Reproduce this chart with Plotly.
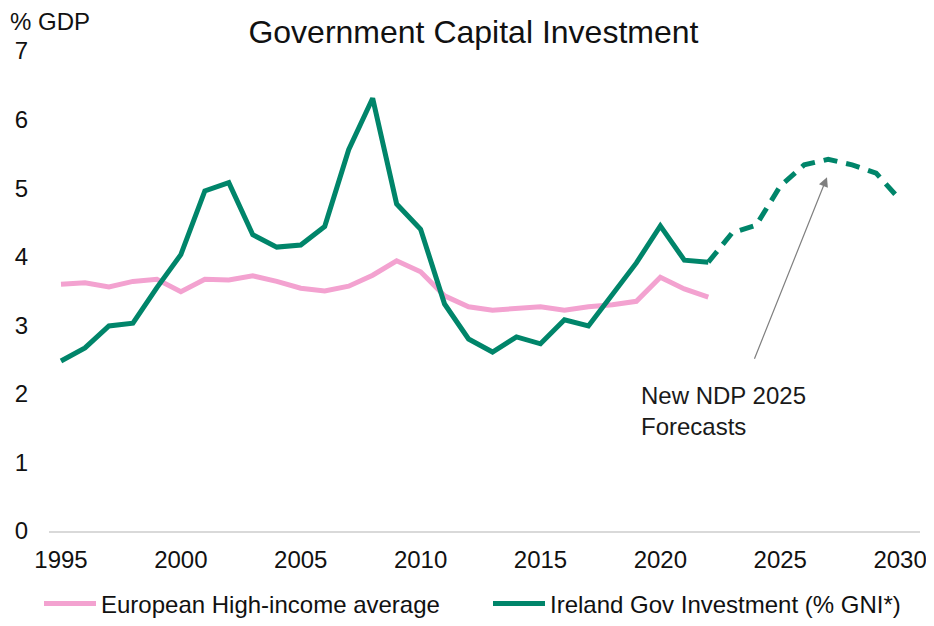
import plotly.graph_objects as go

# data
years = list(range(1995, 2023))
europe = [3.60, 3.62, 3.56, 3.64, 3.67, 3.49, 3.67, 3.66, 3.72, 3.64,
          3.54, 3.50, 3.57, 3.73, 3.94, 3.78, 3.43, 3.27, 3.22, 3.25,
          3.27, 3.22, 3.27, 3.30, 3.35, 3.70, 3.53, 3.41]
ireland = [2.48, 2.67, 2.99, 3.03, 3.55, 4.03, 4.96, 5.08, 4.32, 4.14,
           4.17, 4.44, 5.56, 6.31, 4.77, 4.40, 3.31, 2.80, 2.61, 2.83,
           2.73, 3.08, 2.99, 3.44, 3.91, 4.45, 3.95, 3.92]
fc_years = list(range(2022, 2031))
ireland_fc = [3.92, 4.35, 4.46, 5.03, 5.34, 5.42, 5.34, 5.22, 4.83]
x_ticks = [1995, 2000, 2005, 2010, 2015, 2020, 2025, 2030]

GREEN = "#00856A"
PINK = "#F3A2D0"
FONT = "Liberation Sans, Arial, sans-serif"

# page body has an 8px margin, so the figure is sized to fit inside the window
W, H = 918, 610

fig = go.Figure()
fig.add_trace(go.Scatter(x=years, y=europe, mode="lines", name="European High-income average",
                         line=dict(color=PINK, width=5), legend="legend"))
fig.add_trace(go.Scatter(x=years, y=ireland, mode="lines", name="Ireland Gov Investment (% GNI*)",
                         line=dict(color=GREEN, width=5), legend="legend2"))
fig.add_trace(go.Scatter(x=fc_years, y=ireland_fc, mode="lines", showlegend=False,
                         line=dict(color=GREEN, width=5, dash="14px,9px")))

# arrow + label for the forecast
fig.add_annotation(x=2026.95, y=5.16, ax=2023.9, ay=2.49, xref="x", yref="y", axref="x", ayref="y",
                   text="", showarrow=True, arrowhead=2, arrowsize=1.6, arrowwidth=1.2,
                   arrowcolor="#7F7F7F")
fig.add_annotation(x=2019.1, y=1.75, xref="x", yref="y", text="New NDP 2025<br>Forecasts",
                   showarrow=False, xanchor="left", yanchor="middle", align="left",
                   font=dict(size=24, color="#1a1a1a"))
# y-axis unit label
fig.add_annotation(x=-0.047, y=1.062, xref="paper", yref="paper", text="% GDP", showarrow=False,
                   xanchor="left", yanchor="middle", font=dict(size=24, color="#111"))

legend_style = dict(orientation="h", xref="container", yref="container", yanchor="middle",
                    y=1 - 596 / H, xanchor="left", font=dict(size=24), itemwidth=52,
                    bgcolor="rgba(0,0,0,0)")

fig.update_layout(
    width=W, height=H,
    template="plotly_white",
    font=dict(family=FONT, size=24, color="#111"),
    title=dict(text="Government Capital Investment", x=0.507, xanchor="center",
               y=1 - 24 / H, yanchor="middle", font=dict(size=32, color="#111")),
    margin=dict(l=41, r=6, t=43, b=87, autoexpand=False),
    plot_bgcolor="white", paper_bgcolor="white",
    legend=dict(legend_style, x=31 / W),
    legend2=dict(legend_style, x=480 / W),
    showlegend=True,
)
fig.update_xaxes(range=[1994.5, 2030.83], tickvals=x_ticks, automargin=False,
                 showgrid=False, zeroline=False, showline=True, linecolor="#D9D9D9", linewidth=2,
                 ticks="", ticklabelstandoff=6, ticklabeloverflow="allow")
fig.update_yaxes(range=[0, 7], dtick=1, automargin=False, showgrid=False, zeroline=False,
                 showline=False, ticks="", ticklabelstandoff=20)

fig.write_html("out.html")
